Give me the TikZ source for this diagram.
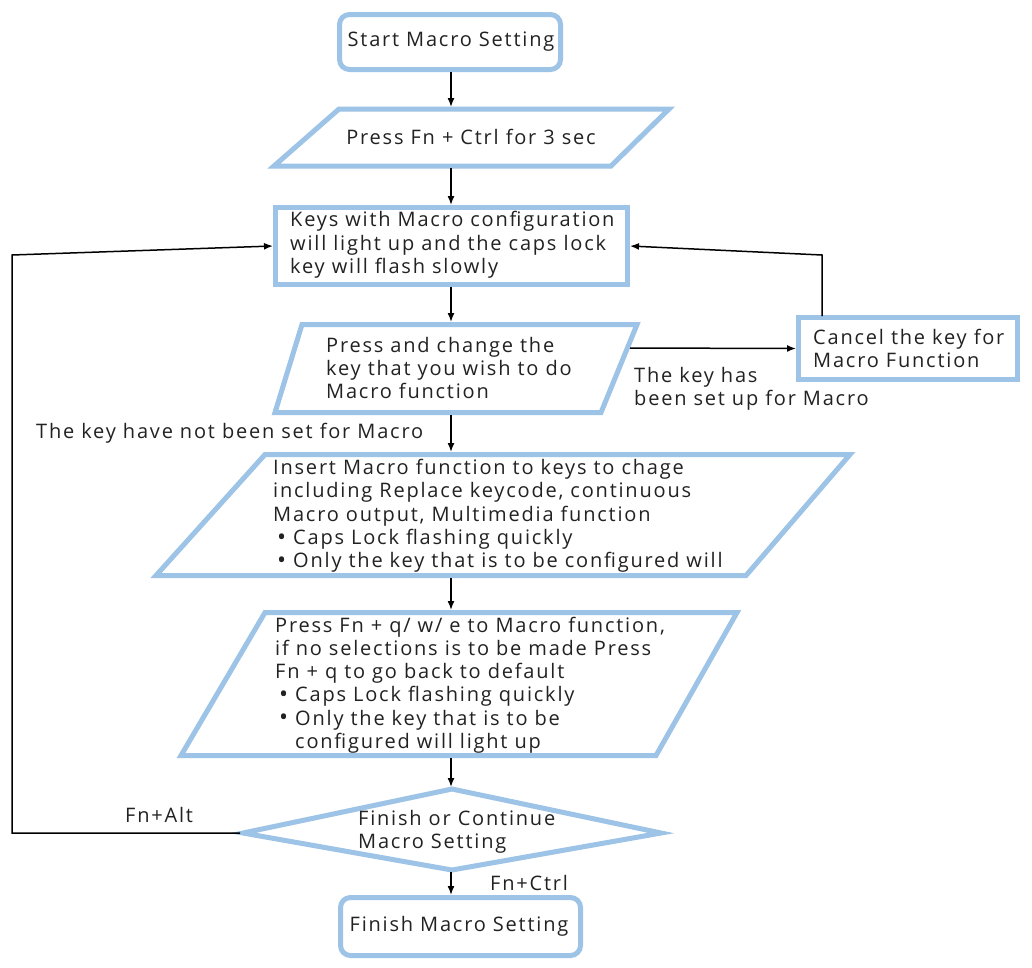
\documentclass[tikz,border=0pt]{standalone}
\usepackage{fontspec}
\setmainfont{Open Sans}[LetterSpace=9]
\usetikzlibrary{arrows.meta}
\definecolor{bl}{HTML}{9DC3E6}
\definecolor{tx}{HTML}{222222}
\newcommand{\blt}{\makebox[20pt][l]{\raisebox{-0.5pt}{\fontsize{24}{24}\selectfont\,•}}}
\begin{document}
\begin{tikzpicture}[x=1pt,y=-1pt,
  box/.style={draw=bl, line width=5pt, inner sep=0pt},
  txt/.style={inner sep=0pt, align=left, font=\fontsize{20}{23.3}\selectfont, text=tx},
  arr/.style={-{Latex[length=9pt,width=7pt]}, line width=1.5pt},
  ln/.style={line width=1.5pt}]
\useasboundingbox (0,0) rectangle (1032,967);
\fill[white] (0,0) rectangle (1032,967);

% start
\node[box, rounded corners=10pt, minimum width=221pt, minimum height=55pt] (start) at (450,42) {};
\node[txt] (starttxt) at (451,42) {Start Macro Setting};

% parallelogram 2
\draw[box, line join=miter] (339,109) -- (669,109) -- (611,166) -- (274,166) -- cycle;
\node[txt] (p2) at (471,137) {Press Fn + Ctrl for 3 sec};
\coordinate (p2t) at (451,107);
\coordinate (p2b) at (451,168);

% keys box
\node[box, minimum width=352pt, minimum height=77pt] (keys) at (451.5,246) {};
\node[txt, anchor=west] (keystxt) at (290,245) {Keys with Macro configuration\\will light up and the caps lock\\key will flash slowly};

% parallelogram 4
\draw[box, line join=miter] (302,324.5) -- (637,324.5) -- (601,412.5) -- (275,412.5) -- cycle;
\node[txt, anchor=west] (p4) at (326,368) {Press and change the\\key that you wish to do\\Macro function};
\coordinate (p4t) at (451,322);
\coordinate (p4b) at (451,415);
\coordinate (p4r) at (630,348);

% cancel box
\node[box, minimum width=219pt, minimum height=62pt] (cancel) at (908,348.5) {};
\node[txt, anchor=west] (canceltxt) at (813,348.5) {Cancel the key for\\Macro Function};
\coordinate (cancelt) at (822,316);
\coordinate (cancelc) at (822,255);

\node[txt, anchor=west] (setup) at (634,388.5) {The key has\\been set up for Macro};
\node[txt, anchor=west] (notset) at (36,433) {The key have not been set for Macro};

% parallelogram 5
\draw[box, line join=miter] (265,454.5) -- (850,454.5) -- (746,575.5) -- (156,575.5) -- cycle;
\node[txt, anchor=west] (p5) at (273,516) {Insert Macro function to keys to chage\\including Replace keycode, continuous\\Macro output, Multimedia function\\\blt Caps Lock flashing quickly\\\blt Only the key that is to be configured will};
\coordinate (p5t) at (451,452);
\coordinate (p5b) at (451,578);

% parallelogram 6
\draw[box, line join=miter] (265,612.5) -- (737,612.5) -- (656,755.5) -- (181,755.5) -- cycle;
\node[txt, anchor=west] (p6) at (275,685) {Press Fn + q/ w/ e to Macro function,\\if no selections is to be made Press\\Fn + q to go back to default\\\blt Caps Lock flashing quickly\\\blt Only the key that is to be\\\hspace*{20pt}configured will light up};
\coordinate (p6t) at (451,610);
\coordinate (p6b) at (451,758);

% diamond
\draw[box, line join=miter] (452,789) -- (661,833) -- (452,870) -- (243,833) -- cycle;
\node[txt, anchor=west] (dtxt) at (358,831.5) {Finish or Continue\\Macro Setting};
\coordinate (dt) at (451,787);
\coordinate (db) at (451,872);
\coordinate (dl) at (240,833);
\coordinate (loopa) at (12,833);
\coordinate (loopb) at (12,255);

\node[txt, anchor=west] (fnalt) at (125,815) {Fn+Alt};
\node[txt, anchor=west] (fnctrl) at (490,883) {Fn+Ctrl};

% finish
\node[box, rounded corners=10pt, minimum width=240pt, minimum height=58pt] (finish) at (460.5,926.5) {};
\node[txt] (finishtxt) at (459,926) {Finish Macro Setting};

% connectors
\draw[arr] (p2t |- start.south) -- (p2t);
\draw[arr] (p2b) -- (p2b |- keys.north);
\draw[arr] (p4t |- keys.south) -- (p4t);
\draw[arr] (p4b) -- (p5t);
\draw[arr] (p5b) -- (p6t);
\draw[arr] (p6b) -- (dt);
\draw[arr] (db) -- (db |- finish.north);
\draw[arr] (p4r) -- (cancel.west);
\draw[arr] (cancelt) -- (cancelc) -- (keys.east);
\draw[arr] (dl) -- (loopa) -- (loopb) -- (keys.west);
\end{tikzpicture}
\end{document}
